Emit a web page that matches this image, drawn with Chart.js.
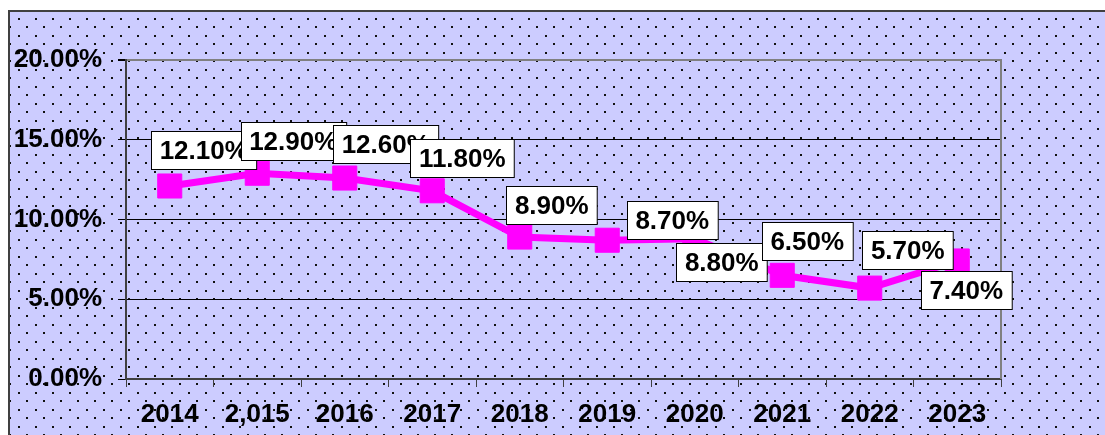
<!DOCTYPE html>
<html>
<head>
<meta charset="utf-8">
<script src="https://cdn.jsdelivr.net/npm/chart.js@4"></script>
<style>
    body { margin: 0; background: #fff; }
    canvas { display: block; }
</style>
</head>
<body>
<canvas id="rateChart" width="1105" height="435"></canvas>
<script>
// Chart data
const years = ['2014', '2,015', '2016', '2017', '2018', '2019', '2020', '2021', '2022', '2023'];
const rates = [12.10, 12.90, 12.60, 11.80, 8.90, 8.70, 8.80, 6.50, 5.70, 7.40];
const yTicks = [0, 5, 10, 15, 20];

// Where each value box sits relative to its point (px)
const labelOffsets = [[34, -36], [36, -32], [41, -34], [30, -33], [32, -32],
                      [65, -20], [27, 23], [25, -34], [38, -38], [9, 29]];

const FONT = 'bold 26px "Liberation Sans", Arial, sans-serif';
const LAVENDER = '#CCCCFF';

// Dotted fill like the old spreadsheet pattern
function makePattern(ctx) {
    const tile = document.createElement('canvas');
    tile.width = 17;
    tile.height = 17;
    const t = tile.getContext('2d');
    t.fillStyle = LAVENDER;
    t.fillRect(0, 0, 17, 17);
    t.fillStyle = '#111';
    t.fillRect(1, 1, 2, 2);
    t.fillRect(9, 9, 2, 2);
    return ctx.createPattern(tile, 'repeat');
}

const backgroundPlugin = {
    id: 'background',
    beforeDraw(chart) {
        const ctx = chart.ctx;
        const area = chart.chartArea;
        const pattern = makePattern(ctx);
        ctx.save();
        ctx.fillStyle = '#fff';
        ctx.fillRect(0, 0, chart.width, chart.height);
        ctx.fillStyle = pattern;
        ctx.fillRect(9, 11, chart.width, chart.height);
        ctx.strokeStyle = '#404040';
        ctx.lineWidth = 2;
        ctx.strokeRect(9, 11, chart.width + 10, chart.height + 10);
        ctx.fillStyle = pattern;
        ctx.fillRect(area.left, area.top, area.right - area.left, area.bottom - area.top);
        ctx.restore();
    },
    beforeDatasetsDraw(chart) {
        const ctx = chart.ctx;
        const area = chart.chartArea;
        ctx.save();
        ctx.strokeStyle = '#808080';
        ctx.lineWidth = 2;
        ctx.beginPath();
        ctx.moveTo(area.right, area.top - 1);
        ctx.lineTo(area.right, area.bottom);
        ctx.stroke();
        ctx.restore();
    }
};

const valueLabelPlugin = {
    id: 'valueLabels',
    afterDatasetsDraw(chart) {
        const ctx = chart.ctx;
        const points = chart.getDatasetMeta(0).data;
        ctx.save();
        ctx.font = FONT;
        ctx.textAlign = 'center';
        ctx.textBaseline = 'middle';
        points.forEach(function(pt, i) {
            const text = rates[i].toFixed(2) + '%';
            const w = ctx.measureText(text).width + 17;
            const h = 38;
            const cx = pt.x + labelOffsets[i][0];
            const cy = pt.y + labelOffsets[i][1];
            const x0 = Math.round(cx - w / 2) + 0.5;
            const y0 = Math.round(cy - h / 2) + 0.5;
            ctx.fillStyle = '#fff';
            ctx.fillRect(x0, y0, w, h);
            ctx.strokeStyle = '#000';
            ctx.lineWidth = 1;
            ctx.strokeRect(x0, y0, w, h);
            ctx.fillStyle = '#000';
            ctx.fillText(text, cx, cy + 2);
        });
        ctx.restore();
    }
};

new Chart(document.getElementById('rateChart'), {
    type: 'line',
    data: {
        labels: years,
        datasets: [{
            data: rates,
            borderColor: '#FF00FF',
            backgroundColor: '#FF00FF',
            borderWidth: 7,
            pointStyle: 'rect',
            pointRadius: 17,
            pointBorderWidth: 1,
            tension: 0
        }]
    },
    options: {
        responsive: false,
        devicePixelRatio: 1,
        animation: false,
        layout: { padding: { top: 60, right: 104, left: 0, bottom: 0 } },
        plugins: {
            legend: { display: false },
            tooltip: { enabled: false }
        },
        scales: {
            x: {
                offset: true,
                afterFit: function(scale) { scale.height = 56; },
                grid: {
                    offset: true,
                    drawOnChartArea: false,
                    tickLength: 8,
                    color: '#404040'
                },
                border: { color: '#404040', width: 2 },
                ticks: {
                    color: '#000',
                    font: { family: '"Liberation Sans", Arial, sans-serif', size: 26, weight: 'bold' },
                    padding: 12,
                    maxRotation: 0,
                    autoSkip: false
                }
            },
            y: {
                min: 0,
                max: 20,
                afterFit: function(scale) { scale.width = 126; },
                afterBuildTicks: function(scale) {
                    scale.ticks = yTicks.map(v => ({ value: v }));
                },
                grid: {
                    tickLength: 8,
                    tickColor: '#000',
                    color: function(c) {
                        if (c.tick.value === 20) return '#808080';
                        if (c.tick.value === 0) return '#404040';
                        return '#000';
                    },
                    lineWidth: function(c) {
                        return c.tick.value === 20 ? 2 : 1;
                    }
                },
                border: { color: '#404040', width: 2 },
                ticks: {
                    color: '#000',
                    font: { family: '"Liberation Sans", Arial, sans-serif', size: 26, weight: 'bold' },
                    padding: 16,
                    callback: function(value) { return value.toFixed(2) + '%'; }
                }
            }
        }
    },
    plugins: [backgroundPlugin, valueLabelPlugin]
});
</script>
</body>
</html>
